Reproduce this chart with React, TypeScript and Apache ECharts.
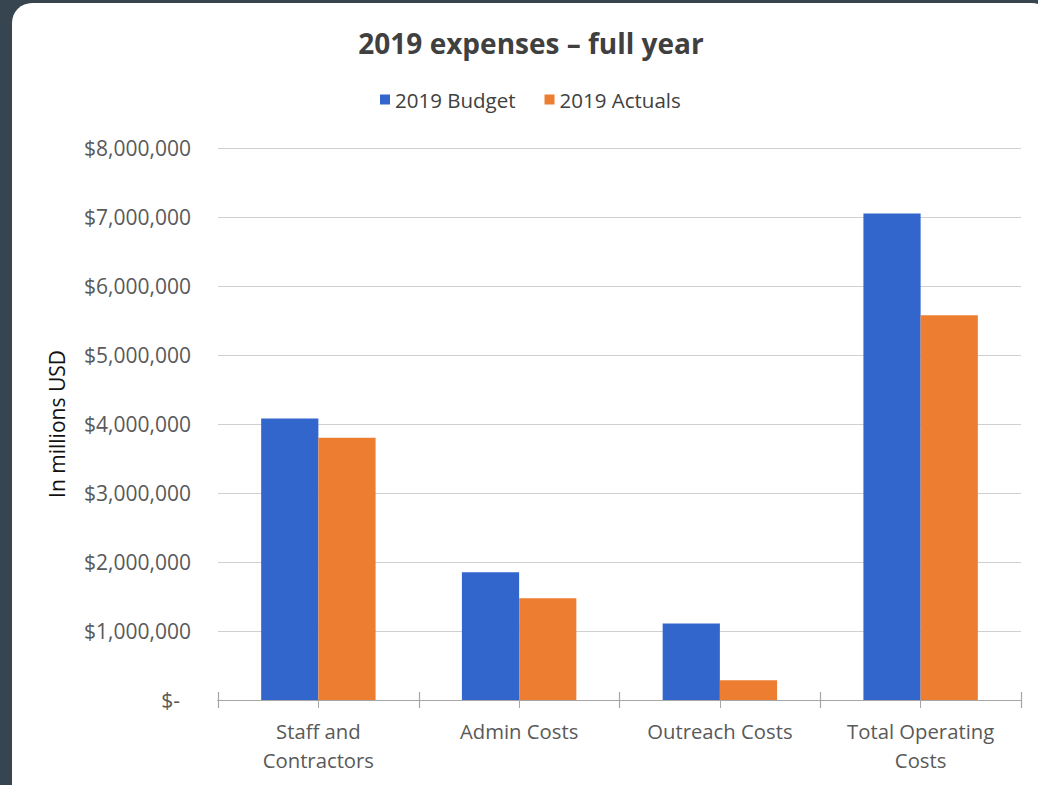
import React, { useEffect, useRef } from "react";
import * as echarts from "echarts";

const categories = ["Staff and\nContractors", "Admin Costs", "Outreach Costs", "Total Operating\nCosts"];
const budget2019 = [4080000, 1850000, 1110000, 7050000];
const actuals2019 = [3800000, 1475000, 285000, 5575000];
const seriesNames = ["2019 Budget", "2019 Actuals"];
const yTicks = [0, 1000000, 2000000, 3000000, 4000000, 5000000, 6000000, 7000000, 8000000];

const FONT = "'Open Sans', sans-serif";

function fmt(v: number): string {
  if (v === 0) return "{z|$-}";
  return "$" + v.toLocaleString("en-US");
}

export default function App() {
  const ref = useRef<HTMLDivElement>(null);
  useEffect(() => {
    document.body.style.margin = "0";
    const chart = echarts.init(ref.current!, null, { renderer: "svg" });
    const baseX = {
      type: "category" as const,
      data: categories,
      position: "bottom" as const,
      axisLine: { show: true, lineStyle: { color: "#a6a6a6", width: 1.2 } },
      splitLine: { show: false },
    };
    chart.setOption({
      animation: false,
      title: {
        text: "2019 expenses – full year",
        left: 526,
        top: 24,
        textAlign: "center",
        textStyle: { fontFamily: FONT, fontSize: 28, fontWeight: "bold", color: "#404040" },
      },
      legend: {
        data: seriesNames,
        left: 375,
        top: 84,
        icon: "rect",
        itemWidth: 10,
        itemHeight: 10,
        itemGap: 29,
        textStyle: { fontFamily: FONT, fontSize: 20.5, color: "#404040" },
      },
      grid: { left: 218, right: 17, top: 148, bottom: 85, containLabel: false },
      xAxis: [
        {
          ...baseX,
          axisTick: { show: true, length: 8, lineStyle: { color: "#a6a6a6", width: 1.2 } },
          axisLabel: {
            fontFamily: FONT,
            fontSize: 20.3,
            color: "#595959",
            lineHeight: 29,
            margin: 16,
            interval: 0,
          },
        },
        {
          ...baseX,
          axisTick: { show: true, inside: true, length: 8, lineStyle: { color: "#a6a6a6", width: 1.2 } },
          axisLabel: { show: false },
        },
        {
          ...baseX,
          axisTick: { show: true, alignWithLabel: true, length: 8, lineStyle: { color: "#a6a6a6", width: 1 } },
          axisLabel: { show: false },
        },
      ],
      yAxis: {
        type: "value",
        min: yTicks[0],
        max: yTicks[yTicks.length - 1],
        interval: yTicks[1] - yTicks[0],
        name: "In millions USD",
        nameLocation: "middle",
        nameGap: 151,
        nameTextStyle: { fontFamily: FONT, fontSize: 21, color: "#111111" },
        axisLine: { show: false },
        axisTick: { show: false },
        splitLine: { show: true, lineStyle: { color: "#d0d0d0", width: 1.2 } },
        axisLabel: {
          fontFamily: FONT,
          fontSize: 21,
          color: "#595959",
          margin: 27,
          formatter: (v: number) => fmt(v),
          rich: { z: { fontFamily: FONT, fontSize: 21, color: "#595959", padding: [0, 11, 0, 0] } },
        },
      },
      series: [
        {
          name: seriesNames[0],
          type: "bar",
          data: budget2019,
          xAxisIndex: 0,
          barGap: "0%",
          barCategoryGap: "43%",
          itemStyle: { color: "#3366CC" },
        },
        {
          name: seriesNames[1],
          type: "bar",
          data: actuals2019,
          xAxisIndex: 0,
          itemStyle: { color: "#ED7D31" },
        },
      ],
    });
    return () => chart.dispose();
  }, []);
  return (
    <div style={{ position: "relative", width: 1038, height: 785, overflow: "hidden", background: "#36454f" }}>
      <div
        style={{
          position: "absolute",
          left: 12,
          top: 3,
          width: 1040,
          height: 801,
          background: "#ffffff",
          borderRadius: 20,
        }}
      />
      <div ref={ref} style={{ position: "absolute", left: 0, top: 0, width: 1038, height: 785 }} />
    </div>
  );
}
